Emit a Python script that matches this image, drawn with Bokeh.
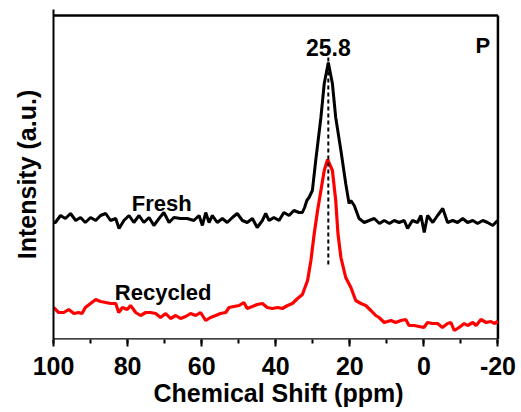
from bokeh.plotting import figure
from bokeh.models import Range1d, Label, FixedTicker
from bokeh.embed import file_html
from bokeh.resources import INLINE

# Chemical shift (ppm) and intensity (a.u.)
fresh_ppm = [100.0, 99.5, 98.1, 96.8, 95.4, 94.0, 92.7, 91.4, 90.0, 88.6, 87.3, 85.9, 84.6, 83.2, 82.3,
             81.0, 79.6, 78.3, 76.9, 75.6, 74.2, 72.9, 71.5, 70.2, 68.8, 67.5, 65.7, 63.9, 62.1, 60.7,
             59.8, 58.9, 58.0, 57.1, 55.8, 54.4, 53.1, 51.7, 50.4, 49.0, 47.7, 46.3, 45.0, 43.6, 42.7,
             41.8, 40.5, 39.1, 37.8, 36.4, 35.1, 33.7, 32.8, 32.2, 31.6, 31.0, 30.1, 29.2, 27.8, 26.9,
             25.8, 24.7, 23.8, 22.4, 21.1, 20.2, 19.7, 18.8, 17.5, 16.1, 14.8, 13.4, 12.0, 10.7, 9.3,
             8.0, 6.7, 5.3, 4.4, 3.1, 1.7, 0.8, -0.1, -1.0, -2.4, -3.7, -5.1, -6.4, -7.8, -9.1,
             -10.5, -11.8, -13.2, -14.5, -15.9, -17.2, -18.6, -19.9]
fresh_int = [117, 117, 124, 121, 126, 119, 122, 117, 122, 119, 124, 126, 119, 121, 111,
             119, 124, 117, 124, 117, 122, 114, 121, 127, 117, 122, 121, 121, 119, 124,
             114, 127, 117, 124, 117, 121, 117, 122, 126, 119, 117, 121, 112, 119, 126,
             119, 122, 119, 127, 124, 129, 127, 127, 132, 139, 142, 149, 179, 222, 256,
             277, 256, 222, 189, 156, 136, 139, 134, 121, 117, 119, 121, 116, 119, 116,
             119, 117, 119, 111, 119, 117, 124, 107, 124, 117, 124, 131, 117, 119, 117,
             121, 117, 119, 116, 119, 117, 114, 119]

recycled_ppm = [100.0, 98.6, 97.2, 95.9, 94.5, 93.2, 92.3, 91.4, 90.0, 88.6, 87.3, 85.9, 84.6, 83.2,
                82.4, 81.4, 80.1, 79.2, 77.8, 76.5, 75.1, 73.8, 72.4, 71.1, 69.7, 68.4, 67.0, 65.7,
                64.3, 63.0, 61.6, 60.3, 58.9, 57.6, 56.2, 54.9, 53.5, 52.6, 51.3, 49.9, 48.6, 47.7,
                46.3, 45.0, 43.6, 42.3, 40.9, 39.5, 38.2, 36.8, 35.5, 34.1, 32.8, 31.4, 30.5, 29.6,
                28.7, 27.8, 26.9, 26.0, 24.7, 23.8, 23.2, 22.4, 21.1, 19.7, 18.4, 17.0, 15.7, 14.3,
                13.0, 12.1, 10.7, 8.9, 7.6, 6.2, 4.9, 4.0, 2.6, 1.3, 0.0, -1.0, -2.3, -3.7, -5.0,
                -6.4, -7.3, -8.2, -9.5, -10.9, -11.8, -13.2, -14.1, -15.4, -16.8, -18.1, -19.0, -20.0]
recycled_int = [32, 27, 27, 30, 26, 27, 26, 32, 36, 40, 38, 37, 36, 36,
                27, 32, 30, 34, 27, 24, 27, 27, 26, 22, 26, 21, 24, 21,
                23, 26, 24, 27, 19, 22, 24, 26, 27, 32, 33, 34, 37, 31,
                33, 35, 36, 32, 31, 32, 31, 34, 36, 41, 45, 59, 79, 106,
                129, 149, 169, 180, 169, 139, 106, 82, 62, 52, 39, 36, 34, 29,
                24, 22, 17, 19, 17, 19, 20, 14, 14, 13, 12, 17, 16, 16, 12,
                16, 17, 9, 12, 16, 14, 17, 14, 20, 17, 18, 16, 18]

x_ticks = [100, 80, 60, 40, 20, 0, -20]
x_minor = [90, 70, 50, 30, 10, -10]
peak_ppm = 25.8

FONT = "Liberation Sans"
# frame box (data); the plotting ranges extend a little past it so the box lines are never clipped
X_LEFT, X_RIGHT, Y_BOTTOM, Y_TOP = 100, -20, 0, 324

p = figure(width=521, height=412, output_backend="svg", toolbar_location=None,
           x_range=Range1d(X_LEFT, X_RIGHT - 1.5), y_range=Range1d(Y_BOTTOM, Y_TOP + 6),
           min_border_left=53, min_border_right=18, min_border_top=9, min_border_bottom=73)

p.grid.visible = False
p.outline_line_color = None
p.background_fill_color = "white"
p.border_fill_color = "white"

# x axis
xa = p.xaxis[0]
xa.ticker = FixedTicker(ticks=x_ticks, minor_ticks=x_minor + x_ticks)
xa.major_label_overrides = {-20: "-20"}
xa.axis_label = "Chemical Shift (ppm)"
xa.axis_label_text_font = FONT
xa.axis_label_text_font_style = "bold"
xa.axis_label_text_font_size = "25px"
xa.axis_label_text_color = "black"
xa.axis_label_standoff = 1
xa.major_label_text_font = FONT
xa.major_label_text_font_style = "bold"
xa.major_label_text_font_size = "25px"
xa.major_label_text_color = "black"
xa.major_label_standoff = 10
xa.axis_line_color = None
xa.major_tick_line_width = 2
xa.minor_tick_line_width = 2
xa.major_tick_line_color = "black"
xa.minor_tick_line_color = "black"
xa.major_tick_out = 7
xa.major_tick_in = 0
xa.minor_tick_out = 4
xa.minor_tick_in = 0

# y axis: title only
ya = p.yaxis[0]
ya.ticker = FixedTicker(ticks=[])
ya.axis_label = "Intensity (a.u.)"
ya.axis_label_text_font = FONT
ya.axis_label_text_font_style = "bold"
ya.axis_label_text_font_size = "25px"
ya.axis_label_text_color = "black"
ya.axis_label_standoff = 13
ya.axis_line_width = 2
ya.axis_line_color = "black"
ya.major_tick_line_color = None
ya.minor_tick_line_color = None

# frame box: bottom, right and top lines
p.line([X_LEFT, X_RIGHT], [Y_BOTTOM, Y_BOTTOM], line_color="black", line_width=2.5)
p.line([X_LEFT, X_RIGHT], [Y_TOP, Y_TOP], line_color="black", line_width=2.5)
p.line([X_RIGHT, X_RIGHT], [Y_BOTTOM, Y_TOP], line_color="black", line_width=2.5)

p.line(fresh_ppm, fresh_int, line_color="black", line_width=3)
p.line(recycled_ppm, recycled_int, line_color="#ff0000", line_width=3.2)

# dashed marker at the peak
p.line([peak_ppm, peak_ppm], [289, 74], line_color="black", line_width=2, line_dash="4 3")

def lab(x, y, t, size="22px"):
    p.add_layout(Label(x=x, y=y, text=t, text_font=FONT, text_font_style="bold",
                       text_font_size=size, text_align="center", text_baseline="alphabetic",
                       text_color="black"))

lab(peak_ppm, 292, "25.8", size="23px")
lab(-15.9, 294, "P")
lab(70.8, 136, "Fresh")
lab(70.4, 47, "Recycled")

open("out.html", "w").write(file_html(p, INLINE))
